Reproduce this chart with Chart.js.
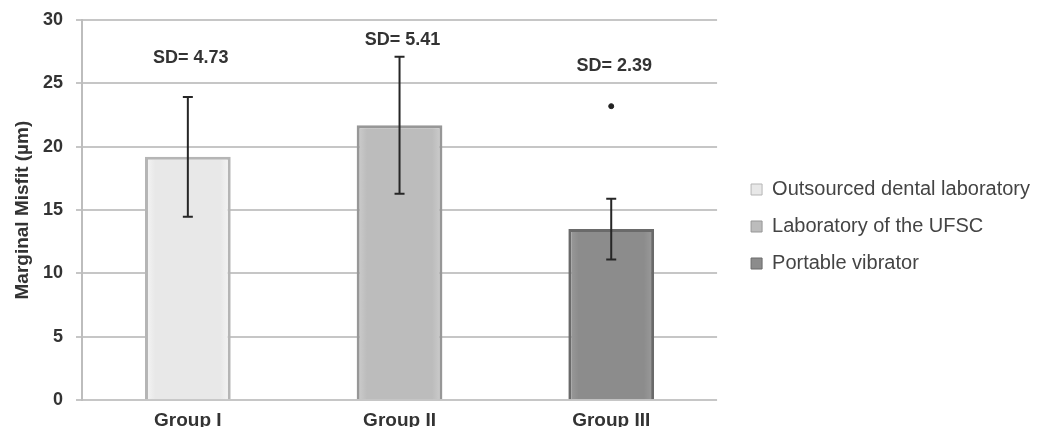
<!DOCTYPE html>
<html>
<head>
<meta charset="utf-8">
<script src="https://cdn.jsdelivr.net/npm/chart.js@4.4.1/dist/chart.umd.min.js"></script>
<style>
    html, body { margin: 0; padding: 0; background: #fff; overflow: hidden; }
    #wrap { width: 1040px; height: 443px; }
</style>
</head>
<body>
<div id="wrap"><canvas id="misfitChart" width="1040" height="443"></canvas></div>
<script>
const groups = ['Group I', 'Group II', 'Group III'];
const methods = ['Outsourced dental laboratory', 'Laboratory of the UFSC', 'Portable vibrator'];
const means = [19.2, 21.7, 13.5];
const sds = [4.73, 5.41, 2.39];
const outliers = [null, null, 23.2];
const sdLabelLevels = [27.0, 28.4, 26.4];

const fills = ['#e8e8e8', '#bcbcbc', '#8c8c8c'];
const edges = ['#f6f6f6', '#cecece', '#9c9c9c'];
const borders = ['#b5b5b5', '#979797', '#6a6a6a'];
const fontFamily = '"Liberation Sans", Arial, sans-serif';
const BAR_PCT = 0.405;

// horizontal gradient so the bars get a little bevel like the original
const barFill = (i) => (context) => {
    const chart = context.chart;
    const x = chart.scales.x;
    if (!chart.chartArea || !x) return fills[i];
    const cx = x.getPixelForValue(i);
    const half = (chart.chartArea.width / groups.length) * BAR_PCT / 2;
    const g = chart.ctx.createLinearGradient(cx - half, 0, cx + half, 0);
    g.addColorStop(0, edges[i]);
    g.addColorStop(0.12, fills[i]);
    g.addColorStop(0.88, fills[i]);
    g.addColorStop(1, edges[i]);
    return g;
};

// error bars + "SD=" labels on top of the bars
const errorBars = {
    id: 'errorBars',
    afterDatasetsDraw(chart) {
        const { ctx, scales: { x, y } } = chart;
        ctx.save();
        ctx.strokeStyle = '#262626';
        ctx.lineWidth = 2;
        means.forEach((m, i) => {
            const cx = x.getPixelForValue(i);
            const top = y.getPixelForValue(m + sds[i]);
            const bot = y.getPixelForValue(m - sds[i]);
            ctx.beginPath();
            ctx.moveTo(cx, top); ctx.lineTo(cx, bot);
            ctx.moveTo(cx - 5, top); ctx.lineTo(cx + 5, top);
            ctx.moveTo(cx - 5, bot); ctx.lineTo(cx + 5, bot);
            ctx.stroke();
        });
        ctx.fillStyle = '#333';
        ctx.font = 'bold 18px ' + fontFamily;
        ctx.textAlign = 'center';
        ctx.textBaseline = 'middle';
        sds.forEach((sd, i) => {
            ctx.fillText('SD= ' + sd.toFixed(2), x.getPixelForValue(i) + 3, y.getPixelForValue(sdLabelLevels[i]));
        });
        ctx.restore();
    }
};

const datasets = methods.map((label, i) => ({
    label,
    data: groups.map((g, j) => (j === i ? means[i] : null)),
    yAxisID: 'y',
    backgroundColor: barFill(i),
    borderColor: borders[i],
    borderWidth: 3,
    borderSkipped: 'bottom',
    grouped: false,
    barPercentage: BAR_PCT,
    categoryPercentage: 1,
    order: 2
}));

datasets.push({
    type: 'line',
    label: 'outlier',
    data: outliers,
    yAxisID: 'y',
    showLine: false,
    pointRadius: 2.5,
    pointBackgroundColor: '#222',
    pointBorderColor: '#222',
    order: 0
});

new Chart(document.getElementById('misfitChart'), {
    type: 'bar',
    data: { labels: groups, datasets },
    options: {
        responsive: false,
        animation: false,
        layout: { padding: { top: 12, left: 4, right: 0, bottom: 2 } },
        plugins: {
            legend: {
                position: 'right',
                maxWidth: 330,
                labels: {
                    generateLabels: chart => methods.map((m, i) => ({
                        text: m,
                        fillStyle: fills[i],
                        strokeStyle: borders[i],
                        lineWidth: 1,
                        fontColor: '#444',
                        datasetIndex: i
                    })),
                    boxWidth: 11,
                    boxHeight: 11,
                    padding: 17,
                    color: '#444',
                    font: { family: fontFamily, size: 20 }
                }
            },
            tooltip: { enabled: false }
        },
        scales: {
            x: {
                grid: { display: false, drawTicks: false },
                border: { display: false },
                ticks: {
                    padding: 9,
                    color: '#333',
                    font: { family: fontFamily, size: 19, weight: 'bold' }
                }
            },
            y: {
                min: 0,
                max: 30,
                ticks: {
                    stepSize: 5,
                    padding: 13,
                    color: '#333',
                    font: { family: fontFamily, size: 18, weight: 'bold' }
                },
                grid: { color: '#c6c6c6', lineWidth: 2, tickLength: 6 },
                border: { color: '#bdbdbd', width: 2 },
                title: {
                    display: true,
                    text: 'Marginal Misfit (µm)',
                    color: '#333',
                    padding: { top: 7, bottom: 9 },
                    font: { family: fontFamily, size: 19, weight: 'bold' }
                },
                afterFit(scale) {
                    scale.width = 78;
                    scale.paddingTop = 20; // plot top at 20px, legend box starts higher
                }
            },
            // empty axis: keeps a gap between plot and legend
            gap: {
                type: 'linear',
                position: 'right',
                grid: { display: false },
                border: { display: false },
                ticks: { display: false },
                afterFit(scale) { scale.width = 17; }
            }
        }
    },
    plugins: [errorBars]
});
</script>
</body>
</html>
